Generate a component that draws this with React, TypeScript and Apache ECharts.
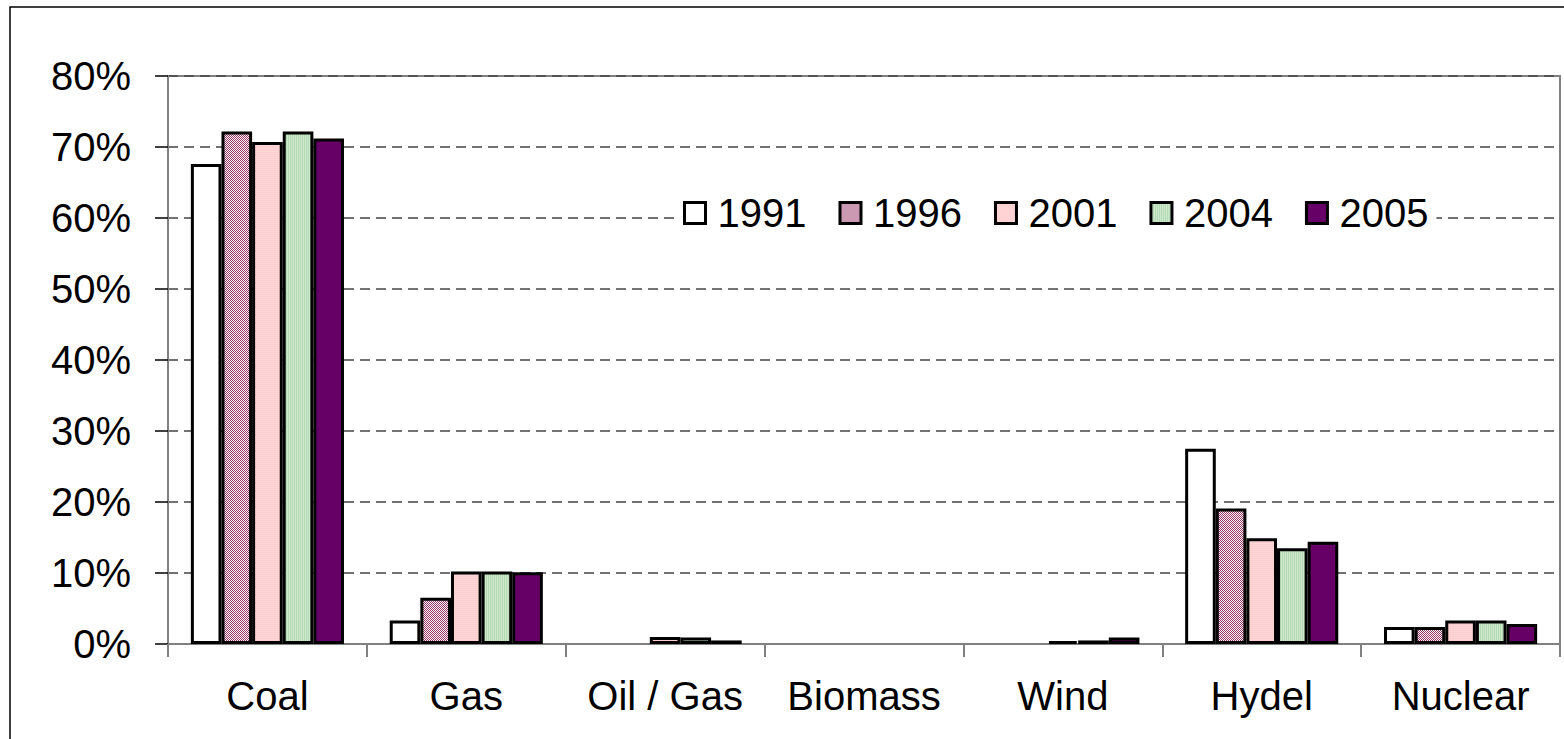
import React, { useEffect, useRef } from "react";
import * as echarts from "echarts";

const categories = ["Coal", "Gas", "Oil / Gas", "Biomass", "Wind", "Hydel", "Nuclear"];
const years = ["1991", "1996", "2001", "2004", "2005"];
const v1991 = [67.6, 3.3, 0, 0, 0, 27.5, 2.4];
const v1996 = [72.2, 6.5, 0, 0, 0, 19.1, 2.4];
const v2001 = [70.7, 10.2, 1.0, 0, 0.4, 14.9, 3.3];
const v2004 = [72.2, 10.2, 0.9, 0, 0.5, 13.5, 3.3];
const v2005 = [71.2, 10.1, 0.5, 0, 0.9, 14.4, 2.8];
const yTicks = [0, 10, 20, 30, 40, 50, 60, 70, 80];

function makePattern(kind: string): any {
  const c = document.createElement("canvas");
  c.width = 4;
  c.height = 4;
  const ctx = c.getContext("2d")!;
  if (kind === "checker") {
    ctx.fillStyle = "#ffffff";
    ctx.fillRect(0, 0, 4, 4);
    ctx.fillStyle = "#993366";
    for (let y = 0; y < 4; y++)
      for (let x = 0; x < 4; x++) if ((x + y) % 2 === 0) ctx.fillRect(x, y, 1, 1);
  } else if (kind === "pink") {
    ctx.fillStyle = "#ffd6d6";
    ctx.fillRect(0, 0, 4, 4);
    ctx.fillStyle = "#ffcfcf";
    ctx.fillRect(0, 0, 4, 1);
    ctx.fillRect(0, 2, 4, 1);
  } else {
    ctx.fillStyle = "#cfe9cf";
    ctx.fillRect(0, 0, 4, 4);
    ctx.fillStyle = "#b3dab3";
    ctx.fillRect(0, 0, 1, 4);
    ctx.fillRect(2, 0, 1, 4);
  }
  return { image: c, repeat: "repeat", imageWidth: 4, imageHeight: 4 };
}

export default function App() {
  const ref = useRef<HTMLDivElement>(null);
  useEffect(() => {
    if (!ref.current) return;
    const chart = echarts.init(ref.current, null, { renderer: "svg" });
    const font = 'Arial, "Liberation Sans", sans-serif';
    const fills = ["#ffffff", makePattern("checker"), makePattern("pink"), makePattern("green"), "#660066"];
    const values = [v1991, v1996, v2001, v2004, v2005];
    chart.setOption({
      animation: false,
      backgroundColor: "#ffffff",
      graphic: [
        {
          type: "rect",
          shape: { x: 10, y: 7, width: 1620, height: 800 },
          style: { fill: "none", stroke: "#000", lineWidth: 1.5 },
          silent: true,
          z: -1,
        },
      ],
      grid: {
        left: 168,
        right: 4,
        top: 76,
        bottom: 95,
        show: true,
        borderColor: "#808080",
        borderWidth: 2,
      },
      legend: {
        data: years,
        left: 675,
        top: 190,
        orient: "horizontal",
        icon: "rect",
        itemWidth: 21,
        itemHeight: 21,
        itemGap: 32,
        padding: [3, 8, 3, 8],
        backgroundColor: "#ffffff",
        itemStyle: { borderColor: "#000", borderWidth: 3 },
        textStyle: { fontFamily: font, fontSize: 40, color: "#000", padding: [0, 0, 0, 7] },
      },
      xAxis: {
        type: "category",
        data: categories,
        axisLine: { lineStyle: { color: "#808080", width: 2 } },
        axisTick: { show: true, length: 13, lineStyle: { color: "#808080", width: 2 } },
        axisLabel: { fontFamily: font, fontSize: 40, color: "#000", margin: 32, interval: 0 },
      },
      yAxis: {
        type: "value",
        min: yTicks[0],
        max: yTicks[yTicks.length - 1],
        interval: 10,
        axisLine: { show: true, lineStyle: { color: "#808080", width: 2 } },
        axisTick: { show: true, length: 13, lineStyle: { color: "#000", width: 1.5 } },
        axisLabel: { fontFamily: font, fontSize: 40, color: "#000", margin: 37, formatter: "{value}%" },
        splitLine: { show: true, lineStyle: { color: "#444", type: [10, 6], width: 1.5 } },
      },
      series: years.map((y, i) => ({
        name: y,
        type: "bar",
        data: values[i].map((v) => (v === 0 ? null : v)),
        barGap: "0%",
        barCategoryGap: "23%",
        itemStyle: { color: fills[i], borderColor: "#000", borderWidth: 3 },
      })),
    });
    return () => chart.dispose();
  }, []);
  return (
    <div
      ref={ref}
      style={{ position: "absolute", left: 0, top: 0, width: 1564, height: 739 }}
    />
  );
}
